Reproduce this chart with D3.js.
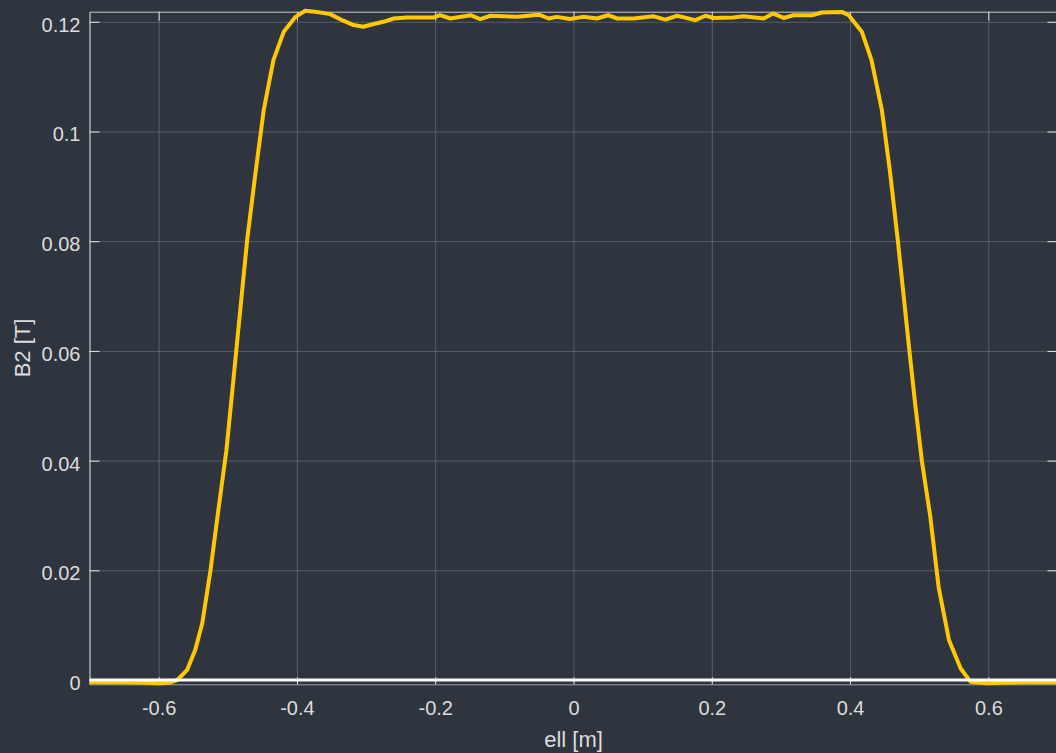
<!DOCTYPE html>
<html>
<head>
<meta charset="utf-8">
<script src="https://cdn.jsdelivr.net/npm/d3@7/dist/d3.min.js"></script>
<style>
  html, body { margin: 0; padding: 0; background: #2e353f; }
  svg { display: block; }
</style>
</head>
<body>
<svg id="chart" width="1056" height="753"></svg>
<script>
// ---- data ----
const ell = [-0.70, -0.66, -0.62, -0.60, -0.585, -0.573, -0.559, -0.547, -0.537, -0.525, -0.513, -0.502, -0.494,
  -0.487, -0.472, -0.460, -0.448, -0.434, -0.419, -0.402, -0.388, -0.371, -0.352, -0.333, -0.318, -0.304,
  -0.289, -0.275, -0.260, -0.241, -0.202, -0.193, -0.178, -0.149, -0.135, -0.120, -0.081, -0.050, -0.036,
  -0.024, -0.005, 0.014, 0.034, 0.050, 0.063, 0.087, 0.116, 0.133, 0.150, 0.176, 0.191, 0.203, 0.231,
  0.246, 0.275, 0.289, 0.304, 0.318, 0.345, 0.359, 0.388, 0.398, 0.417, 0.431, 0.446, 0.458, 0.469,
  0.485, 0.494, 0.504, 0.516, 0.528, 0.543, 0.560, 0.574, 0.598, 0.617, 0.66, 0.70];
const B2 = [-0.0004, -0.0004, -0.0005, -0.0006, -0.0005, 0.0000, 0.0018, 0.0055, 0.0103, 0.0200, 0.0316, 0.0419, 0.0520,
  0.0610, 0.0802, 0.0924, 0.1039, 0.1130, 0.1182, 0.1209, 0.1220, 0.1218, 0.1214, 0.1202, 0.1194, 0.1191,
  0.1196, 0.1200, 0.1206, 0.1208, 0.1208, 0.1212, 0.1206, 0.1212, 0.1205, 0.1211, 0.1209, 0.1213, 0.1206,
  0.1209, 0.1205, 0.1209, 0.1206, 0.1212, 0.1206, 0.1206, 0.1210, 0.1204, 0.1211, 0.1203, 0.1211, 0.1207, 0.1208,
  0.1210, 0.1206, 0.1215, 0.1207, 0.1212, 0.1212, 0.1217, 0.1218, 0.1212, 0.1182, 0.1130, 0.1039, 0.0924, 0.0802,
  0.0610, 0.0505, 0.0398, 0.0298, 0.0170, 0.0073, 0.0021, -0.0003, -0.0006, -0.0005, -0.0004, -0.0004];
const zeroEll = [-0.70, 0.70];
const zeroB2 = [0, 0];
const xTicks = [-0.6, -0.4, -0.2, 0, 0.2, 0.4, 0.6];
const yTicks = [0, 0.02, 0.04, 0.06, 0.08, 0.1, 0.12];
const xDomain = [-0.7, 0.7];
const yDomain = [-0.00078, 0.12184];
const xLabel = "ell [m]";
const yLabel = "B2 [T]";

// ---- layout ----
const L = 89.5, R = 1057.5, T = 11.7, B = 684.3;
const svg = d3.select("#chart");
const x = d3.scaleLinear().domain(xDomain).range([L, R]);
const y = d3.scaleLinear().domain(yDomain).range([B, T]);
const fmt = d => String(Math.round(d * 100) / 100);
const textCol = "#dcdcdc";
const font = "'Liberation Sans', Arial, Helvetica, sans-serif";

// grid
const grid = svg.append("g");
grid.append("g").attr("transform", `translate(0,${B})`)
  .call(d3.axisBottom(x).tickValues(xTicks).tickSize(-(B - T)).tickFormat(""))
  .call(g => { g.select(".domain").remove(); g.selectAll("line").attr("stroke", "#ffffff").attr("stroke-opacity", 0.2); });
grid.append("g").attr("transform", `translate(${L},0)`)
  .call(d3.axisLeft(y).tickValues(yTicks).tickSize(-(R - L)).tickFormat(""))
  .call(g => { g.select(".domain").remove(); g.selectAll("line").attr("stroke", "#ffffff").attr("stroke-opacity", 0.2); });

// box / axes
const xAxis = svg.append("g").attr("transform", `translate(0,${B})`)
  .call(d3.axisBottom(x).tickValues(xTicks).tickSizeInner(-7).tickSizeOuter(0).tickPadding(17).tickFormat(fmt));
xAxis.select(".domain").attr("stroke", "#9a9ea4");
xAxis.selectAll("line").attr("stroke", "#e0e0e0");
xAxis.selectAll("text").attr("fill", textCol).style("font-family", font).style("font-size", "20px");

const xTop = svg.append("g").attr("transform", `translate(0,${T})`)
  .call(d3.axisTop(x).tickValues(xTicks).tickSizeInner(-9).tickSizeOuter(0).tickFormat(""));
xTop.select(".domain").attr("stroke", "#c8c8c8");
xTop.selectAll("line").attr("stroke", "#e0e0e0");

const yAxis = svg.append("g").attr("transform", `translate(${L},0)`)
  .call(d3.axisLeft(y).tickValues(yTicks).tickSizeInner(-10).tickSizeOuter(0).tickPadding(9).tickFormat(fmt));
yAxis.select(".domain").attr("stroke", "#e6e6e6");
yAxis.selectAll("line").attr("stroke", "#e6e6e6");
yAxis.selectAll("text").attr("fill", textCol).attr("dy", "0.47em").style("font-family", font).style("font-size", "20px");

const yRight = svg.append("g").attr("transform", `translate(${R},0)`)
  .call(d3.axisRight(y).tickValues(yTicks).tickSizeInner(-10).tickSizeOuter(0).tickFormat(""));
yRight.select(".domain").attr("stroke", "#e6e6e6");
yRight.selectAll("line").attr("stroke", "#e6e6e6");

// lines
const line = d3.line().x(d => x(d[0])).y(d => y(d[1]));
svg.append("path")
  .datum(ell.map((e, i) => [e, B2[i]]))
  .attr("d", line)
  .attr("fill", "none")
  .attr("stroke", "#ffc800")
  .attr("stroke-width", 4)
  .attr("stroke-linejoin", "round");
svg.append("path")
  .datum(zeroEll.map((e, i) => [e, zeroB2[i]]))
  .attr("d", line)
  .attr("fill", "none")
  .attr("stroke", "#ffffff")
  .attr("stroke-width", 3);

// labels
svg.append("text")
  .attr("x", (L + R) / 2).attr("y", 747)
  .attr("text-anchor", "middle")
  .attr("fill", textCol)
  .style("font-family", font).style("font-size", "22px")
  .text(xLabel);
svg.append("text")
  .attr("transform", `translate(30,${(T + B) / 2}) rotate(-90)`)
  .attr("text-anchor", "middle")
  .attr("fill", textCol)
  .style("font-family", font).style("font-size", "22px")
  .text(yLabel);
</script>
</body>
</html>
